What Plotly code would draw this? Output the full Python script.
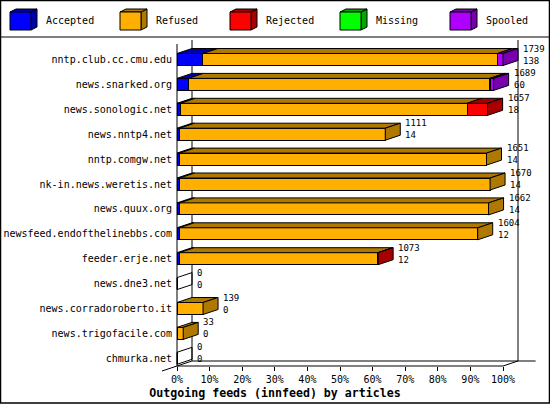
import plotly.graph_objects as go

# ---------------- data ----------------
hosts = ["nntp.club.cc.cmu.edu", "news.snarked.org", "news.sonologic.net",
         "news.nntp4.net", "nntp.comgw.net", "nk-in.news.weretis.net",
         "news.quux.org", "newsfeed.endofthelinebbs.com", "feeder.erje.net",
         "news.dne3.net", "news.corradoroberto.it", "news.trigofacile.com",
         "chmurka.net"]
offered = [1739, 1689, 1657, 1111, 1651, 1670, 1662, 1604, 1073, 0, 139, 33, 0]
accepted = [138, 60, 18, 14, 14, 14, 14, 12, 12, 0, 0, 0, 0]
refused = [1571, 1608, 1529, 1097, 1637, 1656, 1648, 1592, 1059, 0, 139, 33, 0]
rejected = [0, 5, 110, 0, 0, 0, 0, 0, 2, 0, 0, 0, 0]
missing = [0, 0, 0, 0, 0, 0, 0, 0, 0, 0, 0, 0, 0]
spooled = [30, 16, 0, 0, 0, 0, 0, 0, 0, 0, 0, 0, 0]
series_names = ["Accepted", "Refused", "Rejected", "Missing", "Spooled"]
pct_ticks = [0, 10, 20, 30, 40, 50, 60, 70, 80, 90, 100]
pct_labels = ["0%", "10%", "20%", "30%", "40%", "50%", "60%", "70%", "80%", "90%", "100%"]
title_text = "Outgoing feeds (innfeed) by articles"

series_values = [accepted, refused, rejected, missing, spooled]

# ---------------- style / geometry ----------------
W, H = 550, 405
X0PX = 177.0          # pixel of 0%
PPU = 3.26            # pixels per percent
ROW0PX = 59.5         # pixel of first row centre
ROWPX = 24.9          # pixels per row
DX = 15 / PPU         # depth in percent units
DY = 5 / ROWPX        # depth in row units
BAR_H = 12 / ROWPX
MONO = "DejaVu Sans Mono"

front_col = ["#0000FF", "#FFAF00", "#FF0000", "#00FF00", "#AF00FF"]
dark_col = ["#0000A8", "#AF7800", "#A80000", "#00A800", "#7800AF"]

def pxX(p):
    return p / W

def pxY(p):
    return 1 - p / H

def rowY(p):
    return (p - ROW0PX) / ROWPX

scale = 100.0 / max(offered)
rows = list(range(len(hosts)))

fig = go.Figure()
for name, vals, fc in zip(series_names, series_values, front_col):
    fig.add_trace(go.Bar(
        y=rows, x=[v * scale for v in vals], orientation="h", name=name,
        width=BAR_H, marker=dict(color=fc, line=dict(color="black", width=1)),
        hoverinfo="skip"))

shapes = []
annotations = []

def line(x0, y0, x1, y1, layer="below"):
    shapes.append(dict(type="line", xref="x", yref="y", x0=x0, y0=y0, x1=x1, y1=y1,
                       line=dict(color="black", width=1), layer=layer))

# frame
floor_f = rowY(366)
floor_b = floor_f - DY
top_b = rowY(40)
top_f = rowY(44)
line(DX, top_b, DX, floor_b)
line(100 + DX, top_b, 100 + DX, floor_b)
line(0, top_f, 0, floor_f)
line(DX, floor_b, 110, floor_b)
line(0, floor_f, 100, floor_f)
line(100, floor_f, 100 + DX, floor_b)
line(-DX, floor_f + DY, DX, floor_b)

def poly(pts, fill):
    d = "M " + " L ".join(f"{x},{y}" for x, y in pts) + " Z"
    shapes.append(dict(type="path", xref="x", yref="y", path=d, fillcolor=fill,
                       line=dict(color="black", width=1), layer="above"))

# 3D faces
for i in rows:
    top = i - BAR_H / 2
    bot = i + BAR_H / 2
    x = 0.0
    last = None
    for k, vals in enumerate(series_values):
        v = vals[i] * scale
        if v > 0:
            poly([(x, top), (x + v, top), (x + v + DX, top - DY), (x + DX, top - DY)], dark_col[k])
            x += v
            last = k
    if last is None:
        poly([(0, top), (0, bot), (DX, bot - DY), (DX, top - DY)], "rgba(0,0,0,0)")
    else:
        poly([(x, top), (x, bot), (x + DX, bot - DY), (x + DX, top - DY)], dark_col[last])
    annotations.append(dict(
        x=offered[i] * scale + DX, y=i - DY, xref="x", yref="y",
        text=f"{offered[i]}<br>{accepted[i]}", showarrow=False,
        xanchor="left", yanchor="middle", align="left", xshift=3,
        font=dict(family=MONO, size=9, color="black")))

# legend (drawn by hand, 3D boxes)
for k, name in enumerate(series_names):
    bx = 10 + 110 * k
    x0, x1 = pxX(bx), pxX(bx + 21)
    y0, y1 = pxY(30), pxY(12)
    ddx, ddy = 6 / W, 3 / H
    shapes.append(dict(type="path", xref="paper", yref="paper",
                       path=f"M {x1},{y0} L {x1+ddx},{y0+ddy} L {x1+ddx},{y1+ddy} L {x1},{y1} Z",
                       fillcolor=dark_col[k], line=dict(color="black", width=1)))
    shapes.append(dict(type="path", xref="paper", yref="paper",
                       path=f"M {x0},{y1} L {x1},{y1} L {x1+ddx},{y1+ddy} L {x0+ddx},{y1+ddy} Z",
                       fillcolor=dark_col[k], line=dict(color="black", width=1)))
    shapes.append(dict(type="rect", xref="paper", yref="paper", x0=x0, x1=x1, y0=y0, y1=y1,
                       fillcolor=front_col[k], line=dict(color="black", width=1)))
    annotations.append(dict(x=pxX(bx + 34), y=pxY(21), xref="paper", yref="paper",
                            text=name, showarrow=False, xanchor="left", yanchor="middle",
                            font=dict(family=MONO, size=10, color="black")))

# separator & border
shapes.append(dict(type="line", xref="paper", yref="paper", x0=0, x1=1, y0=pxY(37), y1=pxY(37),
                   line=dict(color="black", width=1)))
shapes.append(dict(type="rect", xref="paper", yref="paper", x0=pxX(0.5), x1=pxX(549.5),
                   y0=pxY(403), y1=pxY(0.5), line=dict(color="black", width=1.5)))

fig.update_layout(
    width=W, height=H, barmode="stack", showlegend=False,
    margin=dict(l=0, r=0, t=0, b=0),
    paper_bgcolor="white", plot_bgcolor="white",
    font=dict(family=MONO, size=10, color="black"),
    title=dict(text=f"<b>{title_text}</b>", x=0.5, xref="container", xanchor="center",
               y=1 - 393 / H, yref="container", yanchor="middle",
               font=dict(family=MONO, size=11.6, color="black")),
    xaxis=dict(range=[-X0PX / PPU, (W - X0PX) / PPU], anchor="free", position=pxY(366),
               tickvals=pct_ticks, ticktext=pct_labels, ticks="outside", ticklen=4,
               tickcolor="black", showgrid=False, zeroline=False, showline=False,
               tickfont=dict(family=MONO, size=10), fixedrange=True),
    yaxis=dict(range=[rowY(H), rowY(0)], anchor="free", position=pxX(X0PX),
               tickvals=rows, ticktext=hosts, ticks="", ticklabelstandoff=5,
               showgrid=False, zeroline=False,
               showline=False, tickfont=dict(family=MONO, size=10), fixedrange=True),
    shapes=shapes, annotations=annotations,
)

fig.write_html("out.html", config={"displayModeBar": False},
               post_script="document.body.style.margin='0';document.body.style.padding='0';")
